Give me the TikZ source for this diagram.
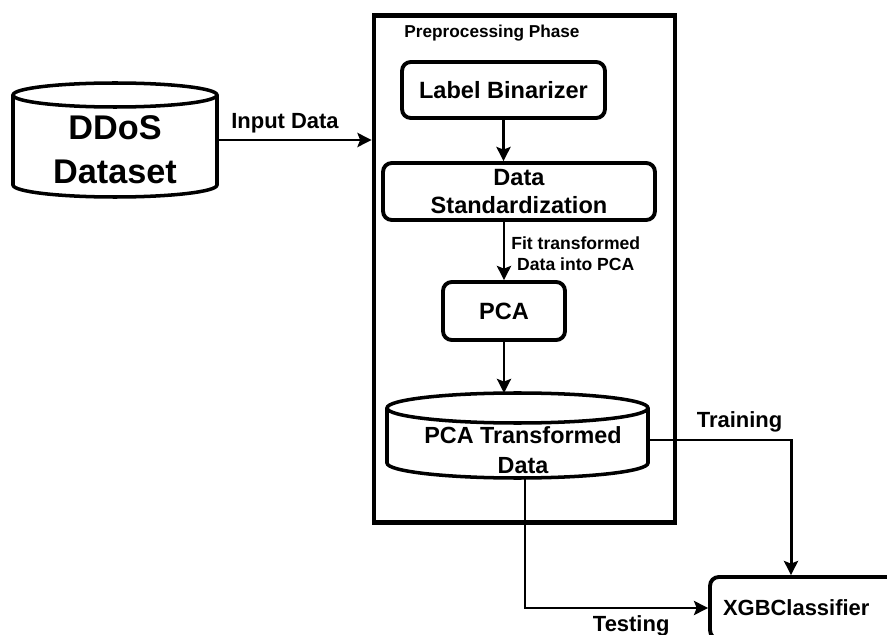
\documentclass[tikz,border=0pt]{standalone}
\usepackage{fontspec}
\setmainfont{Liberation Sans}
\usetikzlibrary{arrows.meta}
\tikzset{>={Stealth[length=8pt,width=8pt,inset=1.5pt]}}
\tikzset{procbox/.style = {draw, rounded corners=5pt, line width=2.2pt, align=center, font=\bfseries\fontsize{13.4}{16.4}\selectfont}}
\tikzset{phasebox/.style = {draw, line width=2.8pt, minimum width=6.02cm, minimum height=10.16cm}}
\tikzset{cyl/.style = {line width=2pt}}
\tikzset{conn/.style = {->, line width=1.7pt}}
\tikzset{lbl/.style = {font=\bfseries\fontsize{12.5}{15}\selectfont}}

\begin{document}
\begin{tikzpicture}[x=0.02cm,y=-0.02cm]
\clip (0,0) rectangle (887,635);
% dataset
\node[font=\bfseries\fontsize{19.5}{25}\selectfont, align=center] (ddos) at (115,150) {DDoS\\Dataset};
\draw[cyl] (13,95) -- (13,185) arc[start angle=180, end angle=0, x radius=102, y radius=12] -- (217,95);
\draw[cyl] (115,95) ellipse[x radius=102, y radius=12];
\coordinate (ddosR) at (217,140);

% preprocessing
\node[phasebox] (prep) at (524.5,269) {};
\node[font=\bfseries\fontsize{9.8}{12}\selectfont] (title) at (492,33) {Preprocessing Phase};
\node[procbox, minimum width=4.06cm, minimum height=1.12cm] (lb) at (503.5,90) {Label Binarizer};
\node[procbox, minimum width=5.44cm, minimum height=1.14cm] (ds) at (519,191.5) {Data\\Standardization};
\node[procbox, minimum width=2.44cm, minimum height=1.16cm] (pca) at (504,311) {PCA};

% transformed data
\node[font=\bfseries\fontsize{13.3}{17}\selectfont, align=center] (pcad) at (523,450) {PCA Transformed\\Data};
\draw[cyl] (387,408) -- (387,463) arc[start angle=180, end angle=0, x radius=130.5, y radius=15] -- (648,408);
\draw[cyl] (517.5,408) ellipse[x radius=130.5, y radius=15];
\coordinate (pcadT) at (504,393);
\coordinate (pcadR) at (648,440);
\coordinate (pcadB) at (525,478);

% classifier
\node[procbox, font=\bfseries\fontsize{12.5}{15}\selectfont, minimum height=1.24cm, inner xsep=0.26cm, text width=3.48cm, align=left] (xgb) at (810,608) {XGBClassifier};

\draw[conn] (ddosR) -- (ddosR -| prep.west) node[lbl, pos=0.44, above] {Input Data};
\draw[conn] (lb.south) -- (lb.south |- ds.north);
\draw[conn] (pca.north |- ds.south) -- (pca.north) node[pos=0.55, right, align=center, font=\bfseries\fontsize{10}{12}\selectfont] {Fit transformed\\Data into PCA};
\draw[conn] (pca.south) -- (pcadT);
\draw[conn] (pcadR) -| ([xshift=-0.38cm]xgb.north) node[lbl, pos=0.32, above] {Training};
\draw[conn] (pcadB) |- (xgb.west) node[lbl, pos=0.79, below] {Testing};
\end{tikzpicture}
\end{document}
